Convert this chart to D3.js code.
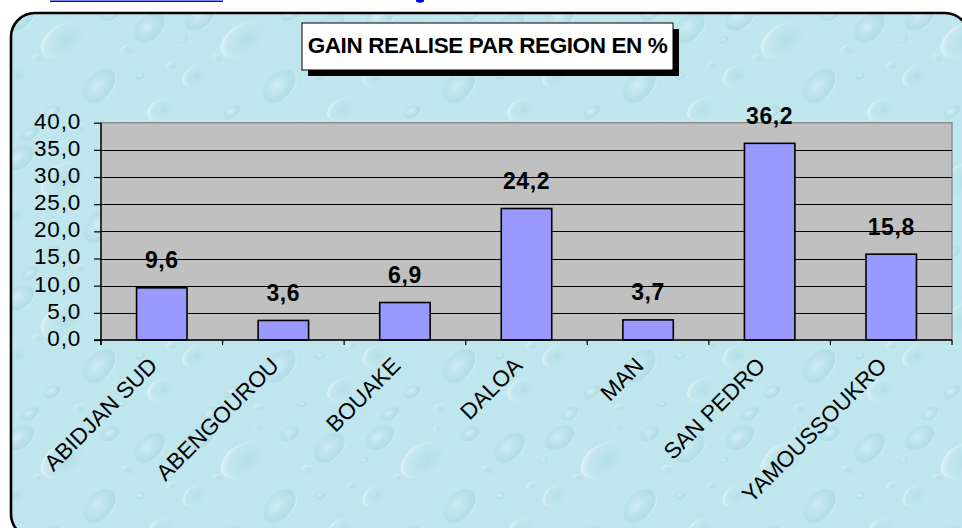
<!DOCTYPE html>
<html>
<head>
<meta charset="utf-8">
<script src="https://cdn.jsdelivr.net/npm/d3@7"></script>
<style>
  html, body { margin: 0; padding: 0; background: #ffffff; }
  svg { display: block; }
</style>
</head>
<body>
<svg id="chart" width="962" height="528"></svg>
<script>
const categories = ["ABIDJAN SUD", "ABENGOUROU", "BOUAKE", "DALOA", "MAN", "SAN PEDRO", "YAMOUSSOUKRO"];
const values = [9.6, 3.6, 6.9, 24.2, 3.7, 36.2, 15.8];
const yTicks = [0, 5, 10, 15, 20, 25, 30, 35, 40];
const title = "GAIN REALISE PAR REGION EN %";

const svg = d3.select("#chart");
const fmt = v => d3.format(".1f")(v).replace(".", ",");
const FONT = "'Liberation Sans', Arial, sans-serif";

// ---- background texture (decorative water drops) ----
const defs = svg.append("defs");
const g1 = defs.append("radialGradient").attr("id", "drop").attr("cx", "45%").attr("cy", "40%").attr("r", "60%");
g1.append("stop").attr("offset", "0%").attr("stop-color", "#e0f5f8").attr("stop-opacity", 0.5);
g1.append("stop").attr("offset", "60%").attr("stop-color", "#add9e3").attr("stop-opacity", 0.4);
g1.append("stop").attr("offset", "88%").attr("stop-color", "#9acdd9").attr("stop-opacity", 0.35);
g1.append("stop").attr("offset", "100%").attr("stop-color", "#eaf8fa").attr("stop-opacity", 0.55);
const g2 = defs.append("radialGradient").attr("id", "drop2").attr("cx", "60%").attr("cy", "60%").attr("r", "60%");
g2.append("stop").attr("offset", "0%").attr("stop-color", "#a3d2dd").attr("stop-opacity", 0.4);
g2.append("stop").attr("offset", "75%").attr("stop-color", "#c4e7ed").attr("stop-opacity", 0.3);
g2.append("stop").attr("offset", "100%").attr("stop-color", "#f0fafb").attr("stop-opacity", 0.55);

const pat = defs.append("pattern").attr("id", "water").attr("patternUnits", "userSpaceOnUse")
  .attr("width", 180).attr("height", 140);
pat.append("rect").attr("width", 180).attr("height", 140).attr("fill", "#bfe6ec");
const drops = [
  [20, 18, 16, 11, -30, "drop"], [62, 40, 24, 15, -35, "drop2"], [110, 14, 10, 7, -20, "drop"],
  [14, 76, 13, 9, -40, "drop2"], [52, 112, 9, 6, -25, "drop"], [100, 86, 20, 13, -45, "drop"],
  [38, 58, 5, 4, 0, "drop2"], [80, 128, 6, 4, 0, "drop2"], [128, 50, 7, 5, 0, "drop2"],
  [4, 40, 5, 3, -30, "drop"], [78, 8, 5, 3, -30, "drop2"], [150, 28, 18, 12, -40, "drop"],
  [160, 110, 14, 10, -35, "drop2"], [140, 76, 5, 4, 0, "drop"], [30, 134, 10, 6, -30, "drop"],
  [172, 66, 6, 4, -20, "drop2"], [122, 124, 5, 3, 0, "drop"]
];
pat.selectAll("ellipse").data(drops).join("ellipse")
  .attr("transform", d => `translate(${d[0]},${d[1]}) rotate(${d[4]})`)
  .attr("rx", d => d[2]).attr("ry", d => d[3])
  .attr("fill", d => `url(#${d[5]})`);

// top cut-off link fragments
svg.append("line").attr("x1", 50).attr("x2", 223).attr("y1", 1.2).attr("y2", 1.2)
  .attr("stroke", "#0000ee").attr("stroke-width", 1.6);
svg.append("ellipse").attr("cx", 420).attr("cy", 0.5).attr("rx", 4).attr("ry", 2.2).attr("fill", "#0000ee");

// chart area rounded rect
svg.append("rect").attr("x", 11).attr("y", 13).attr("width", 958).attr("height", 525)
  .attr("rx", 24).attr("ry", 24)
  .attr("fill", "url(#water)").attr("stroke", "#000").attr("stroke-width", 2.6);

// ---- plot ----
const x = d3.scaleBand().domain(categories).range([101, 952]).paddingInner(0).paddingOuter(0);
const y = d3.scaleLinear().domain([0, 40]).range([340, 122.7]);

// plot area fill
svg.append("rect").attr("x", x.range()[0]).attr("y", y(40))
  .attr("width", x.range()[1] - x.range()[0]).attr("height", y(0) - y(40))
  .attr("fill", "#c0c0c0").attr("stroke", "#808080").attr("stroke-width", 1.2);

// gridlines
svg.append("g").selectAll("line").data(yTicks.filter(t => t > 0 && t < 40)).join("line")
  .attr("x1", x.range()[0]).attr("x2", x.range()[1])
  .attr("y1", d => Math.round(y(d)) + 0.5).attr("y2", d => Math.round(y(d)) + 0.5)
  .attr("stroke", "#000").attr("stroke-width", 1);

// bars
const bw = x.bandwidth() * 0.415;
svg.append("g").selectAll("rect").data(values).join("rect")
  .attr("x", (d, i) => x(categories[i]) + (x.bandwidth() - bw) / 2)
  .attr("y", d => y(d))
  .attr("width", bw)
  .attr("height", d => y(0) - y(d))
  .attr("fill", "#9999ff").attr("stroke", "#000").attr("stroke-width", 1.6);

// value labels
svg.append("g").selectAll("text").data(values).join("text")
  .attr("x", (d, i) => x(categories[i]) + x.bandwidth() / 2)
  .attr("y", d => y(d) - 19.5)
  .attr("text-anchor", "middle")
  .attr("font-family", FONT).attr("font-weight", "bold").attr("font-size", 23)
  .attr("letter-spacing", 0.6)
  .attr("fill", "#000")
  .text(d => fmt(d));

// y axis
const yAxis = svg.append("g").attr("transform", `translate(${x.range()[0]},0)`)
  .call(d3.axisLeft(y).tickValues(yTicks).tickSize(7).tickPadding(13).tickFormat(fmt));
yAxis.select(".domain").attr("stroke", "#000").attr("stroke-width", 1.4)
  .attr("d", `M0,${y(40)}V${y(0) + 5}`);
yAxis.selectAll(".tick line").attr("stroke", "#000").attr("stroke-width", 1.2);
yAxis.selectAll(".tick text")
  .attr("font-family", FONT).attr("font-size", 22.5).attr("letter-spacing", 0.8)
  .attr("fill", "#000").attr("dy", "0.24em");

// x axis
const xg = svg.append("g");
xg.append("line").attr("x1", x.range()[0] - 7).attr("x2", x.range()[1])
  .attr("y1", y(0)).attr("y2", y(0)).attr("stroke", "#000").attr("stroke-width", 1.6);
const bounds = categories.map(c => x(c)).concat([x.range()[1]]);
xg.selectAll("line.tk").data(bounds).join("line").attr("class", "tk")
  .attr("x1", d => d).attr("x2", d => d).attr("y1", y(0)).attr("y2", y(0) + 5)
  .attr("stroke", "#000").attr("stroke-width", 1.2);
xg.selectAll("text").data(categories).join("text")
  .attr("transform", d => `translate(${x(d) + x.bandwidth() / 2 - 3},367) rotate(-45)`)
  .attr("text-anchor", "end")
  .attr("font-family", FONT).attr("font-size", 22.5)
  .attr("fill", "#000")
  .text(d => d);

// title box with shadow
const tb = { x: 302, y: 23, w: 371, h: 47 };
svg.append("rect").attr("x", tb.x + 6).attr("y", tb.y + 6).attr("width", tb.w).attr("height", tb.h).attr("fill", "#000");
svg.append("rect").attr("x", tb.x).attr("y", tb.y).attr("width", tb.w).attr("height", tb.h)
  .attr("fill", "#fff").attr("stroke", "#000").attr("stroke-width", 1);
svg.append("text").attr("x", tb.x + tb.w / 2).attr("y", 53)
  .attr("text-anchor", "middle")
  .attr("font-family", FONT).attr("font-weight", "bold").attr("font-size", 22.5)
  .attr("letter-spacing", -0.4)
  .attr("fill", "#000")
  .text(title);
</script>
</body>
</html>
